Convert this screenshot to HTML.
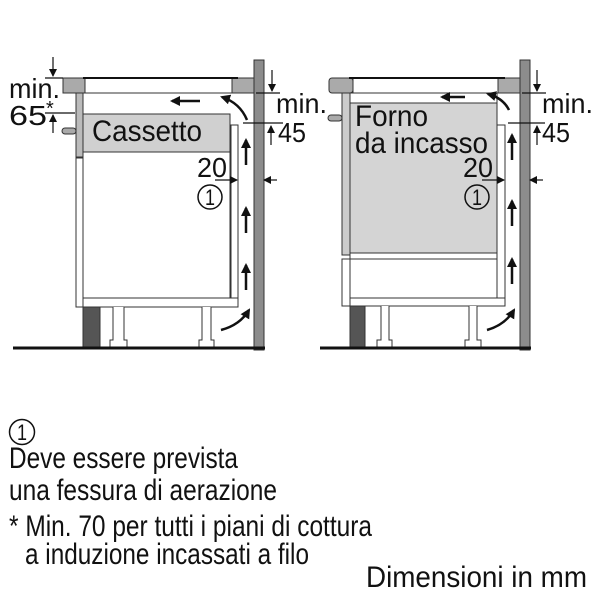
<!DOCTYPE html>
<html><head><meta charset="utf-8"><style>html,body{margin:0;padding:0;background:#fff}svg{display:block}</style></head>
<body>
<svg width="600" height="600" viewBox="0 0 600 600" xmlns="http://www.w3.org/2000/svg" font-family="Liberation Sans, sans-serif" fill="#111">
<defs>
<marker id="ah" markerWidth="8" markerHeight="8" refX="7" refY="4" orient="auto" markerUnits="userSpaceOnUse"><path d="M0,0 L8,4 L0,8 z" fill="#111"/></marker>
<marker id="ab" markerWidth="10" markerHeight="10" refX="8" refY="5" orient="auto" markerUnits="userSpaceOnUse"><path d="M0,0 L10,5 L0,10 z" fill="#111"/></marker>
</defs>
<g stroke="#333" stroke-width="1">
<rect x="254" y="60" width="10" height="290" fill="#8c8c8c"/>
<rect x="63" y="78" width="22" height="15" fill="#aaa"/>
<rect x="232" y="78" width="22" height="15" fill="#aaa"/>
<rect x="85" y="78" width="147" height="15" fill="#fff"/>
<line x1="83" y1="78" x2="238" y2="78" stroke="#111" stroke-width="2"/>
<rect x="76" y="93" width="7" height="64" fill="#bbb"/>
<rect x="76" y="158" width="7" height="149" fill="#fff"/>
<rect x="62" y="128" width="14" height="6" rx="3" fill="#aaa"/>
<rect x="83" y="114" width="147" height="38" fill="#d0d0d0"/>
<rect x="83" y="152" width="147" height="146" fill="#fff"/>
<rect x="231" y="125" width="7" height="173" fill="#fff"/>
<rect x="83" y="298" width="155" height="9" fill="#fff"/>
<rect x="83" y="307" width="17" height="41" fill="#555"/>
<path d="M113,307 V340 H110 V348 H127 V340 H124 V307" fill="#fff"/>
<path d="M202,307 V340 H199 V348 H214 V340 H211 V307" fill="#fff"/>
<rect x="520" y="60" width="10" height="290" fill="#8c8c8c"/>
<rect x="329" y="78" width="24" height="15" rx="3" fill="#aaa"/>
<rect x="498" y="78" width="22" height="15" fill="#aaa"/>
<rect x="353" y="78" width="145" height="15" fill="#fff"/>
<line x1="349" y1="78" x2="505" y2="78" stroke="#111" stroke-width="2"/>
<rect x="342" y="93" width="8" height="162" fill="#ccc"/>
<rect x="342" y="259" width="8" height="47" fill="#fff"/>
<rect x="328" y="115" width="14" height="6" rx="3" fill="#aaa"/>
<rect x="350" y="93" width="147" height="10" fill="#fff"/>
<rect x="350" y="103" width="147" height="150" fill="#d4d4d4"/>
<rect x="350" y="253" width="147" height="6" fill="#fff"/>
<rect x="350" y="259" width="147" height="39" fill="#fff"/>
<rect x="497" y="125" width="8" height="173" fill="#fff"/>
<rect x="350" y="298" width="155" height="8" fill="#fff"/>
<rect x="350" y="306" width="15" height="42" fill="#555"/>
<path d="M381,306 V340 H377 V348 H392 V340 H389 V306" fill="#fff"/>
<path d="M469,306 V340 H465 V348 H481 V340 H477 V306" fill="#fff"/>
</g>
<line x1="13" y1="348" x2="265" y2="348" stroke="#111" stroke-width="3"/>
<line x1="320" y1="348" x2="531" y2="348" stroke="#111" stroke-width="3"/>
<g stroke="#111" stroke-width="2.5" fill="none" marker-end="url(#ab)">
<line x1="246" y1="165" x2="246" y2="140"/>
<line x1="246" y1="233" x2="246" y2="208"/>
<line x1="246" y1="290" x2="246" y2="265"/>
<line x1="200" y1="101" x2="172" y2="101"/>
<path d="M247,120 Q240,103 222,97"/>
<path d="M221,330 Q240,325 249,310"/>
<line x1="512" y1="160" x2="512" y2="135"/>
<line x1="512" y1="226" x2="512" y2="201"/>
<line x1="512" y1="284" x2="512" y2="259"/>
<line x1="465" y1="97" x2="442" y2="97"/>
<path d="M509,110 Q503,98 488,94"/>
<path d="M487,330 Q505,325 514,310"/>
</g>
<g stroke="#111" stroke-width="1.2" fill="none">
<line x1="53" y1="57" x2="53" y2="76" marker-end="url(#ah)"/>
<line x1="45" y1="78" x2="63" y2="78"/>
<line x1="45" y1="113" x2="75" y2="113"/>
<line x1="53" y1="133" x2="53" y2="115" marker-end="url(#ah)"/>
<line x1="272" y1="70" x2="272" y2="91" marker-end="url(#ah)"/>
<line x1="256" y1="93" x2="280" y2="93"/>
<line x1="243" y1="123" x2="283" y2="123"/>
<line x1="271" y1="145" x2="271" y2="126" marker-end="url(#ah)"/>
<line x1="215" y1="180" x2="237" y2="180" marker-end="url(#ah)"/>
<line x1="277" y1="180" x2="264" y2="180" marker-end="url(#ah)"/>
<line x1="537" y1="70" x2="537" y2="91" marker-end="url(#ah)"/>
<line x1="522" y1="93" x2="546" y2="93"/>
<line x1="508" y1="123" x2="545" y2="123"/>
<line x1="537" y1="145" x2="537" y2="126" marker-end="url(#ah)"/>
<line x1="482" y1="180" x2="504" y2="180" marker-end="url(#ah)"/>
<line x1="543" y1="180" x2="530" y2="180" marker-end="url(#ah)"/>
</g>
<g font-size="28">
<text x="9" y="98" textLength="51" lengthAdjust="spacingAndGlyphs">min.</text>
<text x="9" y="125" textLength="38" lengthAdjust="spacingAndGlyphs">65</text>
<text x="46" y="115" font-size="20">*</text>
<text x="92" y="141" textLength="110" lengthAdjust="spacingAndGlyphs" font-size="30">Cassetto</text>
<text x="276" y="113" textLength="51" lengthAdjust="spacingAndGlyphs">min.</text>
<text x="278" y="142" textLength="28" lengthAdjust="spacingAndGlyphs">45</text>
<text x="197" y="177" textLength="30" lengthAdjust="spacingAndGlyphs">20</text>
<text x="355" y="126" textLength="73" lengthAdjust="spacingAndGlyphs" font-size="30">Forno</text>
<text x="355" y="153" textLength="133" lengthAdjust="spacingAndGlyphs" font-size="30">da incasso</text>
<text x="542" y="113" textLength="51" lengthAdjust="spacingAndGlyphs">min.</text>
<text x="542" y="142" textLength="28" lengthAdjust="spacingAndGlyphs">45</text>
<text x="463" y="177" textLength="30" lengthAdjust="spacingAndGlyphs">20</text>
</g>
<g fill="none" stroke="#111" stroke-width="1.5">
<circle cx="210" cy="197" r="12"/>
<circle cx="477" cy="197" r="12"/>
<circle cx="22" cy="432" r="12.5"/>
</g>
<g font-size="22" text-anchor="middle">
<text x="210" y="205" textLength="10" lengthAdjust="spacingAndGlyphs">1</text>
<text x="477" y="205" textLength="10" lengthAdjust="spacingAndGlyphs">1</text>
<text x="22" y="440" textLength="10" lengthAdjust="spacingAndGlyphs">1</text>
</g>
<g font-size="30">
<text x="9" y="468" textLength="229" lengthAdjust="spacingAndGlyphs">Deve essere prevista</text>
<text x="9" y="500" textLength="268" lengthAdjust="spacingAndGlyphs">una fessura di aerazione</text>
<text x="9" y="536" textLength="363" lengthAdjust="spacingAndGlyphs">* Min. 70 per tutti i piani di cottura</text>
<text x="25" y="564" textLength="284" lengthAdjust="spacingAndGlyphs">a induzione incassati a filo</text>
<text x="366" y="587" textLength="221" lengthAdjust="spacingAndGlyphs">Dimensioni in mm</text>
</g>
</svg>
</body></html>
